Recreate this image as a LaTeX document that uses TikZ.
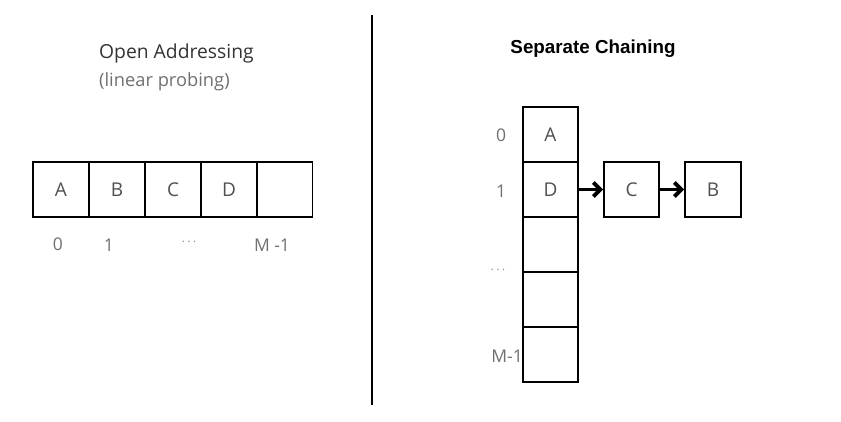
\documentclass[tikz,border=0pt]{standalone}
\usepackage{fontspec}
\setmainfont{Open Sans}
\newfontfamily\titlefont{Liberation Sans}
\usetikzlibrary{arrows.meta}
\definecolor{celltext}{HTML}{505050}
\definecolor{labeltext}{HTML}{707070}
\definecolor{dottext}{HTML}{9A9A9A}
\tikzset{
  cell/.style={draw=black, line width=1.4pt, minimum width=56pt, minimum height=55pt,
    inner sep=0pt, outer sep=0pt, text=celltext, font=\fontsize{19}{22}\selectfont},
  idx/.style={text=labeltext, inner sep=0pt, font=\fontsize{17.5}{20}\selectfont},
  dots/.style={text=dottext, inner sep=0pt, font=\fontsize{13}{15}\selectfont},
  chain/.style={line width=3.8pt, -{Straight Barb[length=7pt,width=14pt]}, shorten <=-0.7pt, shorten >=1pt},
}
\begin{document}
\begin{tikzpicture}[x=1pt,y=-1pt]
\useasboundingbox (0,0) rectangle (841,422);
% separator
\coordinate (septop) at (372,15);
\coordinate (sepbot) at (372,405);
\draw[line width=1.4pt] (septop) -- (sepbot);
% left: open addressing
\node[anchor=west, inner sep=0pt, text=black!80, font=\fontsize{19.3}{22}\selectfont] (oatitle) at (99,53) {Open Addressing};
\node[anchor=west, inner sep=0pt, text=labeltext, font=\fontsize{18.3}{21}\selectfont] (oasub) at (99,82) {(linear probing)};
\node[cell] (la) at (61,189.5) {A};
\node[cell] (lb) at (117,189.5) {B};
\node[cell] (lc) at (173,189.5) {C};
\node[cell] (ld) at (229,189.5) {D};
\node[cell] (le) at (284.5,189.5) {};
\node[idx] (l0) at (58,244) {0};
\node[idx] (l1) at (109,245) {1};
\node[dots] (ldots) at (188,244) {\,·\,·\,·};
\node[idx] (lm) at (272,245) {M -1};
% right: separate chaining
\node[inner sep=0pt, font=\titlefont\bfseries\fontsize{18.8}{22}\selectfont] (sctitle) at (593,49) {Separate Chaining};
\node[cell, minimum width=55pt] (r0) at (550.5,134.5) {A};
\node[cell, minimum width=55pt] (r1) at (550.5,189.5) {D};
\node[cell, minimum width=55pt] (r2) at (550.5,244.5) {};
\node[cell, minimum width=55pt] (r3) at (550.5,299.5) {};
\node[cell, minimum width=55pt] (r4) at (550.5,354.5) {};
\node[cell, minimum width=55pt] (cc) at (631.5,189.5) {C};
\node[cell, minimum width=56pt] (cb) at (713,189.5) {B};
\draw[chain] (r1.east) -- (cc.west);
\draw[chain] (cc.east) -- (cb.west);
\node[idx] (r0l) at (501,135) {0};
\node[idx] (r1l) at (501,191) {1};
\node[dots] (rdots) at (497,272) {\,·\,·\,·};
\node[idx, anchor=east] (rml) at (523,356) {M-1};
\end{tikzpicture}
\end{document}
